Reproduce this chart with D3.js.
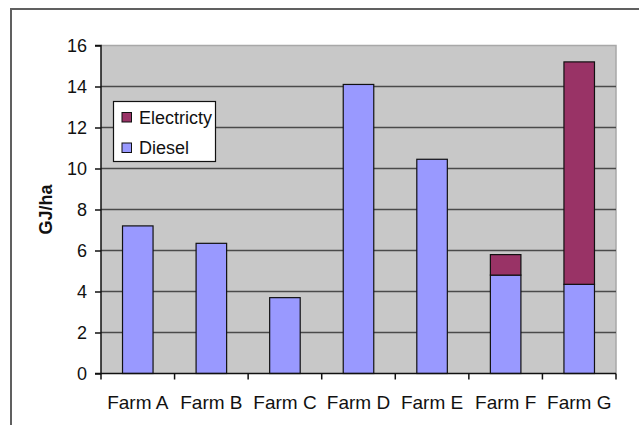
<!DOCTYPE html>
<html>
<head>
<meta charset="utf-8">
<script src="https://cdn.jsdelivr.net/npm/d3@7"></script>
<style>
  html, body { margin: 0; padding: 0; background: #fff; }
  svg { display: block; }
  text { font-family: "Liberation Sans", Arial, sans-serif; }
</style>
</head>
<body>
<svg id="chart" width="639" height="425"></svg>
<script>
const categories = ["Farm A", "Farm B", "Farm C", "Farm D", "Farm E", "Farm F", "Farm G"];
const diesel = [7.2, 6.35, 3.7, 14.1, 10.45, 4.8, 4.35];
const electricity = [0, 0, 0, 0, 0, 1.0, 10.85];
const yTicks = [0, 2, 4, 6, 8, 10, 12, 14, 16];
const seriesNames = ["Electricty", "Diesel"];
const colors = { "Diesel": "#9999FF", "Electricty": "#993366" };

const svg = d3.select("#chart");
const W = 639, H = 425;
const plot = { left: 101, right: 616, top: 45.5, bottom: 373.5 };

// outer frame
svg.append("path")
  .attr("d", `M11,${H + 5} L11,9 L${W + 5},9`)
  .attr("fill", "none").attr("stroke", "#606060").attr("stroke-width", 2);

const x = d3.scaleBand().domain(categories).range([plot.left, plot.right]).paddingInner(0.585).paddingOuter(0.2925);
const y = d3.scaleLinear().domain([0, 16]).range([plot.bottom, plot.top]);

// plot background
svg.append("rect")
  .attr("x", plot.left).attr("y", plot.top)
  .attr("width", plot.right - plot.left).attr("height", plot.bottom - plot.top)
  .attr("fill", "#C8C8C8");

// top & right light border
svg.append("path")
  .attr("d", `M${plot.left},${plot.top} L${plot.right},${plot.top} L${plot.right},${plot.bottom}`)
  .attr("fill", "none").attr("stroke", "#a8a8a8").attr("stroke-width", 1.5);

// gridlines
svg.append("g").selectAll("line")
  .data(yTicks.filter(t => t > 0 && t < 16))
  .join("line")
  .attr("x1", plot.left).attr("x2", plot.right)
  .attr("y1", d => y(d)).attr("y2", d => y(d))
  .attr("stroke", "#4a4a4a").attr("stroke-width", 1.5);

// stacked data
const data = categories.map((c, i) => ({ cat: c, Diesel: diesel[i], Electricty: electricity[i] }));
const stack = d3.stack().keys(["Diesel", "Electricty"])(data);

svg.append("g").selectAll("g")
  .data(stack)
  .join("g")
  .attr("fill", d => colors[d.key])
  .selectAll("rect")
  .data(d => d.filter(s => s[1] - s[0] > 0))
  .join("rect")
  .attr("x", d => x(d.data.cat))
  .attr("width", x.bandwidth())
  .attr("y", d => y(d[1]))
  .attr("height", d => y(d[0]) - y(d[1]))
  .attr("stroke", "#111").attr("stroke-width", 1.2);

// y axis
const yAxis = d3.axisLeft(y).tickValues(yTicks).tickSize(6).tickPadding(8).tickFormat(d3.format("d"));
const yg = svg.append("g").attr("transform", `translate(${plot.left},0)`).call(yAxis);
yg.select(".domain").attr("stroke", "#111").attr("stroke-width", 1.5).attr("d", `M-6,${plot.top}H0V${plot.bottom}H-6`);
yg.selectAll(".tick line").attr("stroke", "#111").attr("stroke-width", 1.5);
yg.selectAll(".tick text").attr("font-size", 18).attr("fill", "#111").attr("font-family", "Liberation Sans, Arial, sans-serif");

// x axis
const xAxis = d3.axisBottom(x).tickSize(0).tickPadding(22);
const xg = svg.append("g").attr("transform", `translate(0,${plot.bottom})`).call(xAxis);
xg.select(".domain").attr("stroke", "#111").attr("stroke-width", 1.5).attr("d", `M${plot.left},0H${plot.right}`);
xg.selectAll(".tick text").attr("font-size", 19).attr("fill", "#111").attr("font-family", "Liberation Sans, Arial, sans-serif");
// boundary ticks
const bounds = categories.map(c => x(c) - x.step() * x.paddingInner() / 2).concat([plot.right]);
xg.selectAll(".btick").data(bounds).join("line")
  .attr("class", "btick")
  .attr("x1", d => d).attr("x2", d => d)
  .attr("y1", 0).attr("y2", 6)
  .attr("stroke", "#111").attr("stroke-width", 1.5);

// y label
svg.append("text")
  .attr("transform", `translate(52,209.5) rotate(-90)`)
  .attr("text-anchor", "middle")
  .attr("font-size", 18).attr("font-weight", "bold").attr("fill", "#111")
  .text("GJ/ha");

// legend
const lg = svg.append("g");
lg.append("rect").attr("x", 113.5).attr("y", 101.5).attr("width", 102).attr("height", 60)
  .attr("fill", "#fff").attr("stroke", "#111").attr("stroke-width", 1.2);
seriesNames.forEach((s, i) => {
  const cy = 117.5 + i * 30.5;
  lg.append("rect").attr("x", 122).attr("y", cy - 5).attr("width", 9.5).attr("height", 9.5)
    .attr("fill", colors[s]).attr("stroke", "#111").attr("stroke-width", 1);
  lg.append("text").attr("x", 139).attr("y", cy).attr("dy", "0.35em")
    .attr("font-size", 18).attr("fill", "#111").text(s);
});
</script>
</body>
</html>
